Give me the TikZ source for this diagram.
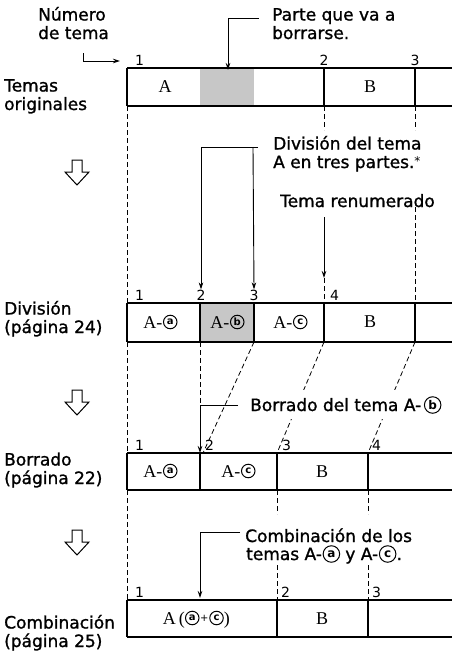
\documentclass[tikz,border=0pt]{standalone}
\usepackage{fontspec}
\setmainfont{Liberation Serif}
\setsansfont{DejaVu Sans}[FakeBold=1.2]
\newfontfamily\numfont{DejaVu Sans}
\usetikzlibrary{arrows.meta, positioning}

\begin{document}
\begin{tikzpicture}[
    x=1pt, y=-1pt,
    lbl/.style={font=\sffamily\fontsize{17}{18.5}\selectfont, align=left, inner sep=0pt, anchor=base west},
    num/.style={font=\numfont\fontsize{14}{14}\selectfont, inner sep=0pt},
    txt/.style={font=\rmfamily\fontsize{18}{18}\selectfont, inner sep=0pt},
    circ/.style={draw, circle, line width=1pt, inner sep=0pt, minimum size=13.5pt, font=\numfont\bfseries\fontsize{10}{10}\selectfont},
    bigcirc/.style={circ, minimum size=16.5pt, font=\numfont\bfseries\fontsize{12}{12}\selectfont},
    plus/.style={font=\numfont\fontsize{10}{10}\selectfont, inner sep=0pt},
    frame/.style={line width=1.3pt},
    divider/.style={line width=2.4pt},
    cut/.style={fill=black!22},
    guide/.style={line width=0.8pt, dash pattern=on 5pt off 3pt},
    lead/.style={line width=0.9pt},
    arr/.style={lead, -{Stealth[length=7pt, width=4.5pt]}},
    downarr/.pic={\draw[line width=1pt, fill=white] (-5,0) -- (5,0) -- (5,12) -- (12,12) -- (0,25) -- (-12,12) -- (-5,12) -- cycle;},
]
    \useasboundingbox (0,0) rectangle (452,653);

    % row 1: original tracks
    \fill[cut] (200,68) rectangle (254,106);
    \draw[frame] (127,68) -- (452,68) (127,106) -- (452,106);
    \foreach \x/\n in {127/a,324/b,415/c}
        \draw[divider] (\x,68) coordinate (o\n t) -- (\x,106) coordinate (o\n b);
    \node[txt] (oA) at (165,87) {A};
    \node[txt] (oB) at (370,87) {B};
    \node[num, anchor=base west] (on1) at (135,65) {1};
    \node[num, anchor=base] (on2) at (324,65) {2};
    \node[num, anchor=base] (on3) at (415,65) {3};

    % row 2: divide
    \fill[cut] (200,303) rectangle (254,342);
    \draw[frame] (127,303) -- (452,303) (127,342) -- (452,342);
    \foreach \x/\n in {127/a,200/b,254/c,324/d,415/e}
        \draw[divider] (\x,303) coordinate (d\n t) -- (\x,342) coordinate (d\n b);
    \node[txt, anchor=base east] (dAa) at (162.5,328) {A-};
    \node[circ, right=0.5pt of dAa.base east, yshift=6pt] (dAac) {a};
    \node[txt, anchor=base east] (dAb) at (229.5,328) {A-};
    \node[circ, right=0.5pt of dAb.base east, yshift=6pt] (dAbc) {b};
    \node[txt, anchor=base east] (dAc) at (292.5,328) {A-};
    \node[circ, right=0.5pt of dAc.base east, yshift=6pt] (dAcc) {c};
    \node[txt] (dB) at (370,322) {B};
    \node[num, anchor=base west] (dn1) at (135,300) {1};
    \node[num, anchor=base] (dn2) at (201,300) {2};
    \node[num, anchor=base] (dn3) at (254,300) {3};
    \node[num, anchor=base west] (dn4) at (330,300) {4};

    % row 3: erase
    \draw[frame] (127,453) -- (452,453) (127,490) -- (452,490);
    \foreach \x/\n in {127/a,200/b,277/c,368/d}
        \draw[divider] (\x,453) coordinate (e\n t) -- (\x,490) coordinate (e\n b);
    \node[txt, anchor=base east] (eAa) at (162.5,477) {A-};
    \node[circ, right=0.5pt of eAa.base east, yshift=6pt] (eAac) {a};
    \node[txt, anchor=base east] (eAc) at (240.5,477) {A-};
    \node[circ, right=0.5pt of eAc.base east, yshift=6pt] (eAcc) {c};
    \node[txt] (eB) at (322,472) {B};
    \node[num, anchor=base west] (en1) at (135,450) {1};
    \node[num, anchor=base west] (en2) at (205,450) {2};
    \node[num, anchor=base west] (en3) at (282,450) {3};
    \node[num, anchor=base west] (en4) at (372,450) {4};

    % row 4: combine
    \draw[frame] (127,600) -- (452,600) (127,637) -- (452,637);
    \foreach \x/\n in {127/a,277/b,368/c}
        \draw[divider] (\x,600) coordinate (c\n t) -- (\x,637) coordinate (c\n b);
    \node[txt, anchor=base east] (cA) at (185,624) {A\,(};
    \node[circ, right=0pt of cA.base east, yshift=6pt] (cAa) {a};
    \node[plus, right=0.5pt of cAa] (cplus) {+};
    \node[circ, right=0.5pt of cplus] (cAc) {c};
    \node[txt, anchor=base west] (cA2) at (cAc.east |- cA.base) {)};
    \node[txt] (cB) at (322,619) {B};
    \node[num, anchor=base west] (cn1) at (135,597) {1};
    \node[num, anchor=base west] (cn2) at (281,597) {2};
    \node[num, anchor=base west] (cn3) at (372,597) {3};

    % guides between rows
    \draw[guide] (oab) -- (dat);
    \draw[guide] (obb) -- (324,130) (324,278) -- (ddt);
    \draw[guide] (ocb) -- (415,130) (415,207) -- (det);
    \draw[guide] (dab) -- (eat);
    \draw[guide] (dbb) -- (200,405);
    \draw[guide] (dcb) -- (203,453);
    \draw[guide] (ddb) -- (ect);
    \draw[guide] (deb) -- (edt);
    \draw[guide] (eab) -- (cat);
    \draw[guide] (ecb) -- (277,514) (277,565) -- (cbt);
    \draw[guide] (edb) -- (368,514) (368,565) -- (cct);

    % left labels
    \node[lbl] (lorig) at (4,110) {Temas\\originales};
    \node[lbl] (ldiv) at (4,333) {División\\(página 24)};
    \node[lbl] (lbor) at (4,484) {Borrado\\(página 22)};
    \node[lbl] (lcomb) at (4,647) {Combinación\\(página 25)};

    \pic (dn1) at (77,160) {downarr};
    \pic (dn2) at (77,390) {downarr};
    \pic (dn3) at (77,530) {downarr};

    % callouts
    \node[lbl] (lnum) at (38,39) {Número\\de tema};
    \coordinate (knum) at (83,53);
    \draw[arr] (knum) |- (120,61);

    \node[lbl] (lparte) at (272,39) {Parte que va a\\borrarse.};
    \coordinate (kparte) at (259,18);
    \draw[arr] (kparte) -| (228,70);

    \node[lbl] (ltres) at (273,168) {División del tema\\A en tres partes.{\numfont\fontsize{12}{12}\selectfont\raisebox{3pt}{*}}};
    \coordinate (ktres) at (258,147);
    \draw[arr] (ktres) -| (dn2.north);
    \draw[arr] (253,147) -- (dn3.north);

    \node[lbl] (lrenum) at (280,207) {Tema renumerado};
    \coordinate (krenum) at (324,217);
    \draw[arr] (krenum) -- (324,278);

    \node[lbl, fill=white, inner xsep=2pt, inner ysep=8pt] (lborr) at (248,411) {Borrado del tema A-};
    \node[bigcirc, right=0.5pt of lborr.base east, yshift=6pt] (lborrc) {b};
    \coordinate (kborr) at (238,405);
    \draw[arr] (kborr) -| (ebt);

    \node[lbl] (lcomb2) at (245,542) {Combinación de los};
    \node[lbl] (lcomb3) at (246,560) {temas A-};
    \node[bigcirc, right=0.5pt of lcomb3.base east, yshift=6pt] (lcomba) {a};
    \node[lbl] (lcomb4) at ([xshift=5pt]lcomba.east |- lcomb3.base) {y A-};
    \node[bigcirc, right=0.5pt of lcomb4.base east, yshift=6pt] (lcombc) {c};
    \node[lbl] (lcomb5) at (lcombc.east |- lcomb3.base) {.};
    \coordinate (kcomb) at (240,532);
    \draw[arr] (kcomb) -| (200,598);
\end{tikzpicture}
\end{document}
